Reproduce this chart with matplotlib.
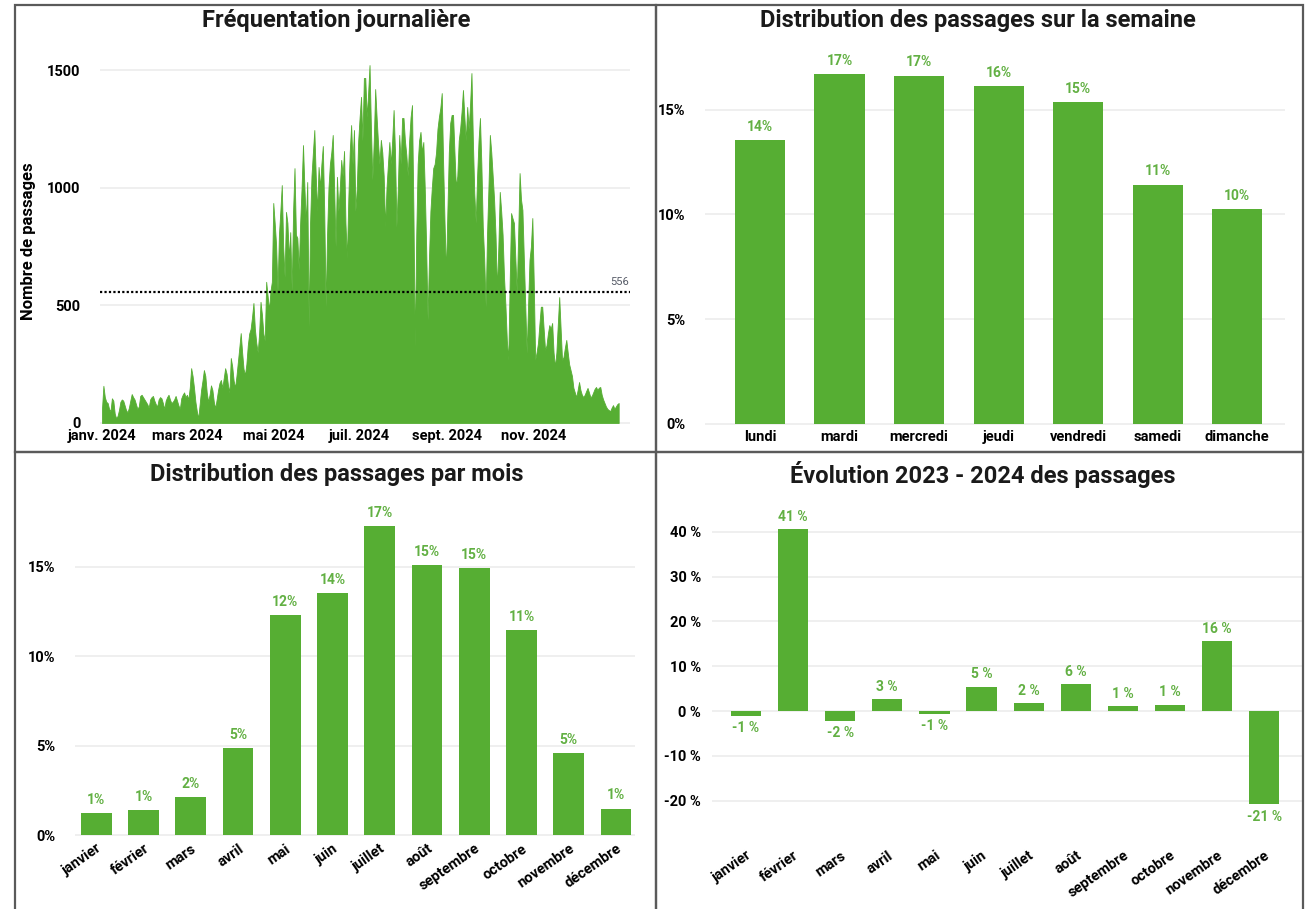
import numpy as np
import matplotlib
matplotlib.use("Agg")
from matplotlib import pyplot as plt
from matplotlib.patches import Rectangle

plt.rcParams['font.family'] = ['Liberation Sans Narrow', 'Roboto', 'DejaVu Sans']

GREEN = "#56ae33"
LABEL_GREEN = "#62b043"
GRID = "#ececec"

W, H = 1310, 909

# daily counts
JAN = [60, 158, 110, 90, 85, 60, 50, 105, 95, 40, 20, 30, 55, 90, 100, 95, 75, 55, 45, 65,
       95, 123, 110, 100, 80, 60, 70, 115, 120, 110, 100]
FEB = [90, 80, 65, 100, 110, 115, 95, 80, 70, 100, 110, 105, 85, 60, 95, 110, 120, 100, 85, 90,
       100, 115, 95, 75, 60, 105, 120, 130, 110]
MAR = [120, 100, 150, 233, 200, 150, 90, 50, 20, 80, 140, 180, 225, 200, 130, 90, 120, 160, 140, 90,
       63, 100, 140, 170, 183, 150, 190, 233, 210, 160, 130]
APR = [276, 240, 180, 150, 200, 260, 320, 382, 300, 230, 204, 250, 330, 380, 400, 450, 510, 400, 340, 300,
       380, 515, 460, 380, 350, 600, 540, 480, 560, 600]
MAY = [935, 850, 757, 560, 800, 900, 1011, 750, 620, 897, 850, 700, 811, 560, 900, 1083, 800, 786, 650, 850,
       1000, 1181, 1000, 850, 1024, 409, 850, 1050, 1150, 1245, 1050]
JUN = [900, 1088, 1000, 1100, 1177, 900, 494, 800, 1000, 1100, 1150, 1224, 1000, 750, 1046, 900, 1000, 1118, 1050, 1156,
       850, 700, 950, 1150, 1266, 1100, 1245, 900, 1000, 1200]
JUL = [1300, 1386, 1200, 1466, 1466, 1300, 1400, 1521, 1250, 1033, 1200, 1419, 1300, 1190, 1100, 1203, 1150, 1050, 833, 1000,
       1100, 1194, 1100, 1200, 1330, 1150, 833, 1000, 1224, 1100, 1296]
AUG = [1296, 1200, 1139, 1050, 1200, 1300, 1351, 900, 323, 800, 1100, 1200, 1237, 1150, 1194, 1000, 750, 438, 700, 900,
       1000, 1083, 1100, 1150, 1250, 1300, 1338, 1402, 1100, 850, 637]
SEP = [900, 1150, 1275, 1309, 1309, 1150, 1003, 1050, 1200, 1250, 1322, 1415, 1300, 1200, 1343, 1250, 1350, 1487, 1200, 977,
       850, 1050, 1200, 1296, 1100, 833, 700, 494, 800, 1000]
OCT = [1224, 1150, 1050, 948, 800, 565, 750, 982, 900, 800, 620, 500, 350, 268, 600, 892, 870, 850, 700, 552,
       800, 1062, 950, 905, 700, 500, 297, 500, 693, 750, 871]
NOV = [600, 268, 300, 340, 420, 494, 494, 400, 310, 330, 380, 416, 400, 425, 300, 239, 300, 420, 535, 400,
       268, 280, 320, 353, 300, 250, 225, 200, 150, 130]
DEC = [110, 140, 174, 140, 120, 110, 120, 135, 149, 130, 110, 115, 130, 145, 153, 140, 150, 153, 120, 100,
       85, 70, 60, 55, 50, 65, 76, 60, 70, 80, 85]
DAILY = JAN + FEB + MAR + APR + MAY + JUN + JUL + AUG + SEP + OCT + NOV + DEC
MOYENNE = 556
DATE_TICKS = [0, 60, 121, 182, 244, 305]
DATE_LABELS = ["janv. 2024", "mars 2024", "mai 2024", "juil. 2024", "sept. 2024", "nov. 2024"]

JOURS = ["lundi", "mardi", "mercredi", "jeudi", "vendredi", "samedi", "dimanche"]
PART_JOURS = [13.55, 16.68, 16.62, 16.1, 15.35, 11.42, 10.25]

MOIS = ["janvier", "février", "mars", "avril", "mai", "juin", "juillet", "août",
        "septembre", "octobre", "novembre", "décembre"]
PART_MOIS = [1.23, 1.4, 2.13, 4.87, 12.3, 13.55, 17.3, 15.1, 14.94, 11.45, 4.59, 1.48]
EVOLUTION = [-1.1, 40.6, -2.2, 2.7, -0.6, 5.4, 1.8, 6.0, 1.1, 1.4, 15.6, -20.8]


def ax_at(fig, l, t, r, b):
    ax = fig.add_axes([l / W, 1 - b / H, (r - l) / W, (b - t) / H])
    for s in ax.spines.values():
        s.set_visible(False)
    ax.tick_params(length=0, labelsize=10.5)
    ax.set_axisbelow(True)
    ax.yaxis.grid(True, color=GRID, lw=1.2)
    return ax


def bold_ticks(ax):
    for lab in ax.get_xticklabels() + ax.get_yticklabels():
        lab.set_fontweight("bold")


def value_label(ax, x, y, txt, va):
    ax.text(x, y, txt, ha="center", va=va, fontsize=10, fontweight="bold", color=LABEL_GREEN)


fig = plt.figure(figsize=(W / 100, H / 100), dpi=100)

# panel frames
for (l, t, r, b) in [(15, 5, 656, 452), (656, 5, 1303, 452), (15, 452, 656, 915), (656, 452, 1303, 915)]:
    fig.add_artist(Rectangle((l / W, 1 - b / H), (r - l) / W, (b - t) / H,
                             transform=fig.transFigure, fill=False, ec="#5a5a5a", lw=1.6))

title_kw = dict(ha="center", va="center", fontsize=17, fontweight="bold", color="#1a1a1a")
fig.text(336 / W, 1 - 20 / H, "Fréquentation journalière", **title_kw)
fig.text(978 / W, 1 - 20 / H, "Distribution des passages sur la semaine", **title_kw)
fig.text(337 / W, 1 - 474 / H, "Distribution des passages par mois", **title_kw)
fig.text(983 / W, 1 - 474 / H, "Évolution 2023 - 2024 des passages", **title_kw)

# daily attendance
ax1 = ax_at(fig, 100, 58, 630, 425)
days = np.arange(len(DAILY))
ax1.fill_between(days, DAILY, color=GREEN, lw=0.6, ec=GREEN)
ax1.axhline(MOYENNE, color="black", ls=(0, (1, 1)), lw=1.6)
ax1.text(len(DAILY) + 6, MOYENNE + 20, str(MOYENNE), ha="right", va="bottom", fontsize=8, color="#555a66")
ax1.set_xlim(-1.4, 373)
ax1.set_ylim(-8.5, 1551)
ax1.set_yticks([0, 500, 1000, 1500])
ax1.set_xticks(DATE_TICKS)
ax1.set_xticklabels(DATE_LABELS)
ax1.tick_params(axis="x", pad=3)
ax1.tick_params(axis="y", pad=14)
ax1.set_ylabel("Nombre de passages", fontsize=12, fontweight="bold", labelpad=8)
bold_ticks(ax1)

# week distribution
ax2 = ax_at(fig, 705, 55, 1285, 425)
x2 = np.arange(len(JOURS))
ax2.bar(x2, PART_JOURS, width=0.63, color=GREEN)
for xi, v in zip(x2, PART_JOURS):
    value_label(ax2, xi, v + 0.3, f"{v:.0f}%", "bottom")
ax2.set_xlim(-0.69, 6.6)
ax2.set_ylim(-0.05, 17.6)
ax2.set_yticks([0, 5, 10, 15])
ax2.set_yticklabels([f"{t}%" for t in [0, 5, 10, 15]])
ax2.set_xticks(x2)
ax2.set_xticklabels(JOURS)
ax2.tick_params(axis="y", pad=14)
bold_ticks(ax2)

# month distribution
ax3 = ax_at(fig, 75, 490, 635, 836)
x3 = np.arange(len(MOIS))
ax3.bar(x3, PART_MOIS, width=0.65, color=GREEN)
for xi, v in zip(x3, PART_MOIS):
    value_label(ax3, xi, v + 0.35, f"{v:.0f}%", "bottom")
ax3.set_xlim(-0.45, 11.4)
ax3.set_ylim(-0.05, 19.3)
ax3.set_yticks([0, 5, 10, 15])
ax3.set_yticklabels([f"{t}%" for t in [0, 5, 10, 15]])
ax3.set_xticks(x3)
ax3.set_xticklabels(MOIS, rotation=35, ha="right", rotation_mode="anchor")
ax3.tick_params(axis="y", pad=14)
ax3.tick_params(axis="x", pad=4)
bold_ticks(ax3)

# 2023 -> 2024 evolution
ax4 = ax_at(fig, 712, 505, 1302, 840)
x4 = np.arange(len(MOIS))
ax4.bar(x4, EVOLUTION, width=0.64, color=GREEN)
for xi, v in zip(x4, EVOLUTION):
    if v >= 0:
        value_label(ax4, xi, v + 1.2, f"{v:.0f} %", "bottom")
    else:
        value_label(ax4, xi, v - 1.2, f"{v:.0f} %", "top")
ax4.set_xlim(-0.72, 11.8)
ax4.set_ylim(-28.8, 46)
yt = [-20, -10, 0, 10, 20, 30, 40]
ax4.set_yticks(yt)
ax4.set_yticklabels([f"{t} %" for t in yt])
ax4.set_xticks(x4)
ax4.set_xticklabels(MOIS, rotation=35, ha="right", rotation_mode="anchor")
ax4.tick_params(axis="y", pad=8)
ax4.tick_params(axis="x", pad=6)
bold_ticks(ax4)

fig.savefig("out.png", dpi=100)
